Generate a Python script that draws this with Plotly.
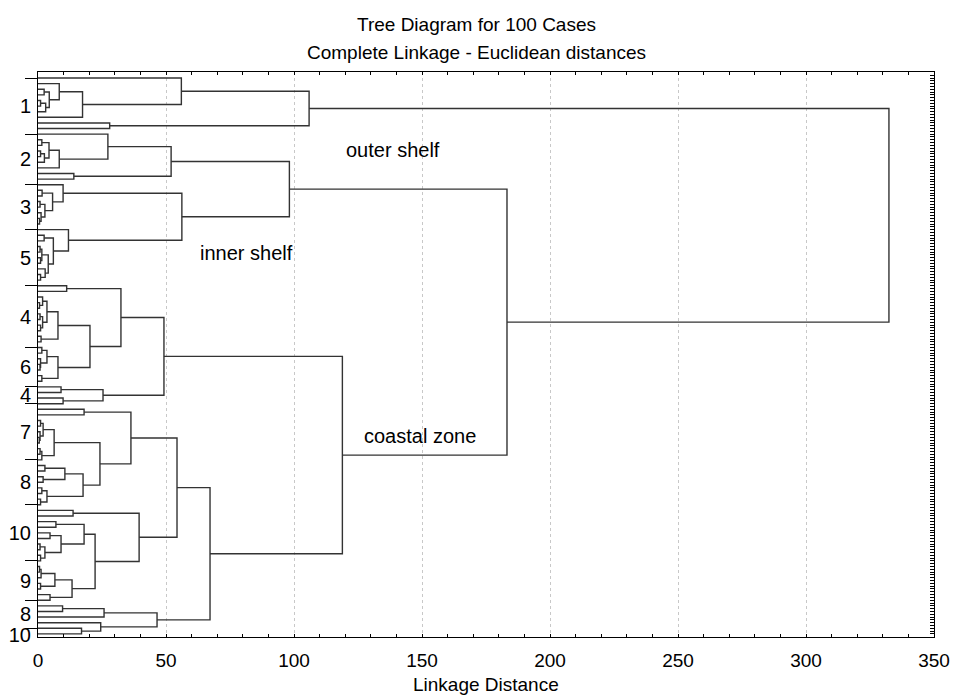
import numpy as np
import plotly.graph_objects as go

# ---------------- data: cluster tree (merge heights = linkage distance) ----
L = 0  # a single case (leaf)

# outer shelf (group "1")
tree_outer = (105.9,
              (56.0, L, (17.4, (8.3, L, (4.4, (2.4, L, L), (3.0, (1.0, L, L), L))), L)),
              (28.0, L, L))
# group "2"
tree_g2 = (52.0, (27.3, L, (8.3, (4.3, (1.5, L, L), (2.5, (1.0, L, L), L)), L)), (14.0, L, L))
# group "3"
tree_g3 = (9.8, L, (5.7, (1.6, L, L), (2.7, (0.8, L, L), (1.2, L, (0.6, L, L)))))
# group "5"
tree_g5 = (11.9, L, (6.0, (2.4, L, L), (4.0, (1.5, (0.8, L, L), (1.0, L, L)), (2.8, L, (1.0, L, L)))))
# coastal groups
tree_g4 = (7.8, (3.5, (1.8, L, (0.6, L, L)), (1.8, (0.8, L, L), (1.0, L, L))), (1.2, L, L))
tree_g6 = (7.8, (3.5, (1.5, L, L), (1.0, L, (0.8, L, L))), (1.5, L, L))
tree_g4b = (25.4, (9.0, L, L), (9.8, L, L))
tree_g7 = (6.3, (2.0, (1.0, L, L), (0.8, L, (0.5, L, L))), (1.5, (0.8, L, L), L))
tree_g8 = (17.6, (10.5, (2.7, L, L), (2.0, L, L)), (3.5, (1.5, L, L), (1.0, L, L)))
tree_g10 = (18.0, (7.0, L, L), (9.0, (4.7, L, L), (2.7, (0.8, L, L), (1.0, L, L))))
tree_g9 = (13.3, (6.6, (1.2, (0.6, L, L), L), (1.0, L, L)), (4.7, L, L))
tree_g8b10 = (46.5, (25.8, (9.6, L, L), L), (24.5, L, (17.0, L, L)))

inner_shelf = (98.2, tree_g2, (56.2, tree_g3, tree_g5))
coastal = (118.9,
           (49.2, (32.4, (11.2, L, L), (20.3, tree_g4, tree_g6)), tree_g4b),
           (67.2,
            (54.3,
             (36.3, (18.0, L, L), (24.2, tree_g7, tree_g8)),
             (39.5, (13.7, L, L), (22.3, tree_g10, tree_g9))),
            tree_g8b10))
root = (332.4, tree_outer, (183.2, inner_shelf, coastal))

# case labels shown on the vertical axis (first case index of each run)
label_start = [0, 10, 19, 27, 37, 48, 55, 58, 68, 76, 86, 93, 98]
label_text = ["1", "2", "3", "5", "4", "6", "4", "7", "8", "10", "9", "8", "10"]
n_cases = 100

# ---------------- build dendrogram segments ----------------
xs, ys = [], []
counter = [0]


def walk(node):
    if node == L:
        y = counter[0]
        counter[0] += 1
        return 0.0, float(y)
    h, a, b = node
    ha, ya = walk(a)
    hb, yb = walk(b)
    xs.extend([ha, h, h, hb, None])
    ys.extend([ya, ya, yb, yb, None])
    return h, (ya + yb) / 2.0


walk(root)

label_end = label_start[1:] + [n_cases + 0.4]
label_pos = [(a + b) / 2.0 for a, b in zip(label_start, label_end)]

yr = [n_cases - 0.45, -1.07]
FONT = "Liberation Sans, Arial, sans-serif"

fig = go.Figure()
fig.add_trace(go.Scatter(x=xs, y=ys, mode="lines",
                         line=dict(color="#333333", width=1.4),
                         hoverinfo="skip", showlegend=False))

fig.update_layout(
    width=953, height=696,
    margin=dict(l=38, r=19, t=72, b=59),
    paper_bgcolor="white", plot_bgcolor="white",
    font=dict(family=FONT, size=19, color="black"),
    showlegend=False,
    xaxis=dict(range=[0, 350], dtick=50, tick0=0,
               ticks="inside", ticklen=3, tickcolor="black",
               showgrid=True, gridcolor="#c8c8c8", griddash="dot", gridwidth=1,
               minor=dict(dtick=10, ticks="inside", ticklen=3, tickcolor="black", showgrid=False),
               showline=True, linecolor="black", linewidth=1, mirror=True,
               zeroline=False, ticklabelstandoff=6,
               tickfont=dict(size=19), automargin=False),
    xaxis2=dict(range=[0, 350], overlaying="x", side="top", anchor="y",
                dtick=10, ticks="inside", ticklen=3, tickcolor="black",
                showticklabels=False, showgrid=False, zeroline=False, showline=False),
    yaxis=dict(range=yr, tickvals=label_pos, ticktext=label_text,
               ticks="", showgrid=False, zeroline=False,
               showline=True, linecolor="black", linewidth=1, mirror=True,
               tickfont=dict(size=20), ticklabelstandoff=2, automargin=False),
    yaxis2=dict(range=yr, overlaying="y", side="left", anchor="x",
                tickvals=label_start, ticks="outside", ticklen=12, tickwidth=1.2,
                tickcolor="black", showticklabels=False, showgrid=False,
                zeroline=False, showline=False),
    yaxis3=dict(range=yr, overlaying="y", side="right", anchor="x",
                tickvals=list(np.arange(-1, n_cases, 0.5)), ticks="inside", ticklen=4,
                tickcolor="black", showticklabels=False, showgrid=False,
                zeroline=False, showline=False),
)

# dummy traces so the overlay axes are drawn
fig.add_trace(go.Scatter(x=[None], y=[None], xaxis="x2", yaxis="y", showlegend=False, hoverinfo="skip"))
fig.add_trace(go.Scatter(x=[None], y=[None], xaxis="x", yaxis="y2", showlegend=False, hoverinfo="skip"))
fig.add_trace(go.Scatter(x=[None], y=[None], xaxis="x", yaxis="y3", showlegend=False, hoverinfo="skip"))

px0 = (476.5 - 38) / 896.0
fig.add_annotation(text="Tree Diagram for 100 Cases", xref="paper", yref="paper",
                   x=px0, y=(637 - 24) / 565.0, yanchor="middle", showarrow=False, font=dict(size=19))
fig.add_annotation(text="Complete Linkage - Euclidean distances", xref="paper", yref="paper",
                   x=px0, y=(637 - 53) / 565.0, yanchor="middle", showarrow=False, font=dict(size=19))
fig.add_annotation(text="Linkage Distance", xref="paper", yref="paper",
                   x=0.5, y=(637 - 684) / 565.0, yanchor="middle", showarrow=False, font=dict(size=19))

fig.add_annotation(text="outer shelf", x=138.7, y=12.8, showarrow=False, font=dict(size=20))
fig.add_annotation(text="inner shelf", x=81.6, y=31.1, showarrow=False, font=dict(size=20))
fig.add_annotation(text="coastal zone", x=149.2, y=63.7, showarrow=False, font=dict(size=20))

fig.write_html("out.html")
